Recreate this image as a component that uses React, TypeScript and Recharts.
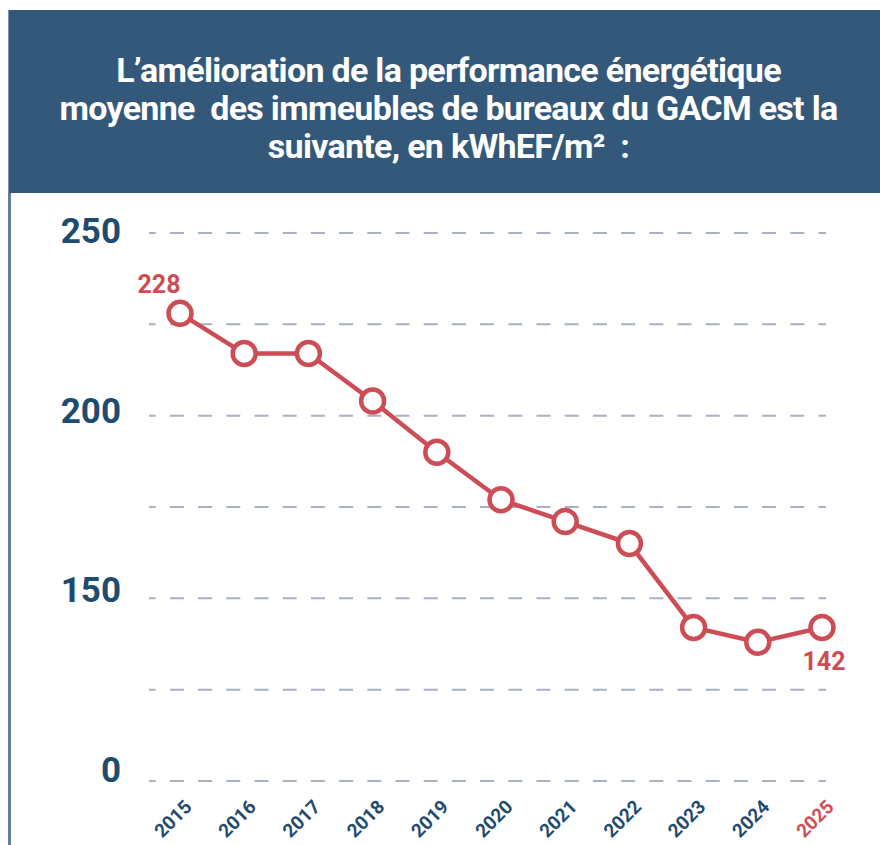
import { LineChart, Line, XAxis, YAxis, CartesianGrid, LabelList } from 'recharts'

const years = ['2015', '2016', '2017', '2018', '2019', '2020', '2021', '2022', '2023', '2024', '2025']
const consumption = [228, 217, 217, 204, 190, 177, 171, 165, 142, 138, 142]
const yTicks = [100, 125, 150, 175, 200, 225, 250]
const yTickLabels: Record<number, string> = { 250: '250', 200: '200', 150: '150', 100: '0' }
const titleLines = [
  'L’amélioration de la performance énergétique',
  'moyenne  des immeubles de bureaux du GACM est la',
  'suivante, en kWhEF/m²  :',
]

const chartData = years.map((year, i) => ({ year, value: consumption[i] }))

const BLUE = '#1f4b70'
const RED = '#cd4d56'
const FONT = 'Roboto, "Noto Sans", sans-serif'

function YTick({ x, y, payload }: any) {
  const label = yTickLabels[payload.value] ?? ''
  if (!label) return null
  // labels sit a little higher the lower they are
  const shift = -2 - ((250 - payload.value) / 150) * 9
  return (
    <text x={x} y={y + shift} dy={12} textAnchor="end" fill={BLUE} fontFamily={FONT} fontWeight={700} fontSize={35}>
      {label}
    </text>
  )
}

function XTick({ x, y, payload, index }: any) {
  const last = index === years.length - 1
  const tx = x + 13
  const ty = y + 27
  return (
    <text
      x={tx}
      y={ty}
      transform={`rotate(-45, ${tx}, ${ty})`}
      textAnchor="end"
      fill={last ? RED : BLUE}
      fontFamily={FONT}
      fontWeight={700}
      fontSize={19}
    >
      {payload.value}
    </text>
  )
}

function EndLabel({ x, y, value, index }: any) {
  if (index === 0) {
    return (
      <text x={x - 21} y={y - 20} textAnchor="middle" fill={RED} fontFamily={FONT} fontWeight={700} fontSize={25}>
        {value}
      </text>
    )
  }
  if (index === years.length - 1) {
    return (
      <text x={x + 2} y={y + 42} textAnchor="middle" fill={RED} fontFamily={FONT} fontWeight={700} fontSize={25}>
        {value}
      </text>
    )
  }
  return null
}

export default function App() {
  return (
    <div style={{ position: 'absolute', left: 0, top: 0, width: 880, height: 845, background: '#fff', overflow: 'hidden' }}>
      <div
        style={{
          position: 'absolute',
          left: 8,
          top: 10,
          width: 872,
          height: 183,
          background: '#34587a',
          borderLeft: '1px solid #8196ae',
          boxSizing: 'border-box',
          color: '#fff',
          fontFamily: FONT,
          fontWeight: 700,
          fontSize: 34,
          letterSpacing: -0.7,
          lineHeight: '38px',
          textAlign: 'center',
          paddingTop: 41,
          paddingLeft: 8,
        }}
      >
        {titleLines.map((line) => (
          <div key={line} style={{ whiteSpace: 'pre' }}>{line}</div>
        ))}
      </div>
      <div style={{ position: 'absolute', left: 8, top: 193, width: 3, height: 652, background: '#62809d' }} />
      <div style={{ position: 'absolute', left: 0, top: 0 }}>
        <LineChart width={880} height={845} data={chartData} margin={{ top: 233, right: 54, bottom: 0, left: 121 }}>
          <CartesianGrid
            vertical={false}
            stroke="#a7b1c2"
            strokeWidth={2}
            strokeDasharray="14 14.2"
            strokeDashoffset={7.3}
          />
          <XAxis
            dataKey="year"
            axisLine={false}
            tickLine={false}
            tickSize={0}
            tickMargin={0}
            height={64}
            interval={0}
            padding={{ left: 31, right: 4 }}
            tick={<XTick />}
          />
          <YAxis
            type="number"
            domain={[100, 250]}
            ticks={yTicks}
            axisLine={false}
            tickLine={false}
            tickSize={0}
            tickMargin={28}
            width={28}
            interval={0}
            tick={<YTick />}
          />
          <Line
            type="linear"
            dataKey="value"
            stroke={RED}
            strokeWidth={4.5}
            dot={{ r: 11.5, fill: '#fff', stroke: RED, strokeWidth: 4.5 }}
            activeDot={false}
            isAnimationActive={false}
          >
            <LabelList dataKey="value" content={<EndLabel />} />
          </Line>
        </LineChart>
      </div>
    </div>
  )
}
